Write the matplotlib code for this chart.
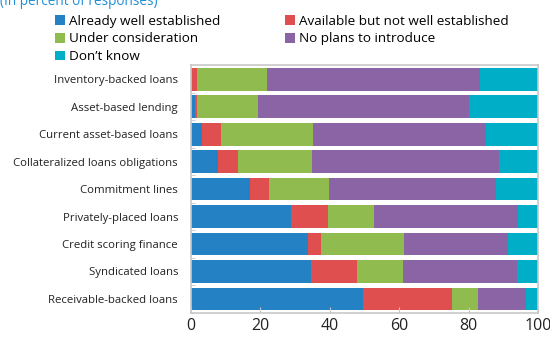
import matplotlib
matplotlib.use('Agg')
import matplotlib.pyplot as plt
import numpy as np

plt.rcParams['font.family'] = ['Open Sans', 'DejaVu Sans']

categorias = ['Inventory-backed loans', 'Asset-based lending', 'Current asset-based loans',
              'Collateralized loans obligations', 'Commitment lines', 'Privately-placed loans',
              'Credit scoring finance', 'Syndicated loans', 'Receivable-backed loans']
estabelecido = [0, 1.3, 3.2, 7.8, 17.0, 28.9, 33.9, 34.8, 49.7]
disponivel = [1.8, 0.6, 5.7, 6.0, 5.7, 10.7, 3.7, 13.1, 25.4]
consideracao = [20.1, 17.4, 26.4, 21.1, 17.1, 13.3, 23.7, 13.3, 7.6]
sem_planos = [61.5, 60.8, 49.7, 53.9, 48.1, 41.4, 30.1, 32.6, 13.7]
nao_sabe = [16.6, 19.9, 15.0, 11.2, 12.1, 5.7, 8.6, 6.2, 3.6]

series = [
    ('Already well established', estabelecido, '#2481c3'),
    ('Available but not well established', disponivel, '#df4f4f'),
    ('Under consideration', consideracao, '#8fbb4f'),
    ('No plans to introduce', sem_planos, '#8a64a4'),
    ("Don\u2019t know", nao_sabe, '#00aec8'),
]

fig = plt.figure(figsize=(5.5, 3.41), dpi=100)
ax = fig.add_axes([0.3464, 0.083, 0.632, 0.725])

y = np.arange(len(categorias))
esquerda = np.zeros(len(categorias))
barras = {}
for nome, valores, cor in series:
    b = ax.barh(y, valores, 0.83, left=esquerda, color=cor, label=nome)
    barras[nome] = b
    esquerda = esquerda + np.array(valores)

ax.set_xlim(0, 100)
ax.set_ylim(len(categorias) - 0.5, -0.5)
ax.set_yticks(y, categorias, fontsize=8.2, color='#222222')
ax.set_yticks(np.arange(len(categorias)) + 0.5, minor=True)
ax.tick_params(axis='y', which='major', length=0, pad=9)
ax.tick_params(axis='y', which='minor', length=3, direction='in', color='#c8c8c8')
ax.set_xticks([0, 20, 40, 60, 80, 100])
ax.tick_params(axis='x', length=4, direction='in', color='#c8c8c8', labelsize=11.5,
               labelcolor='#222222', pad=4)
for s in ax.spines.values():
    s.set_color('#c8c8c8')
    s.set_linewidth(1.2)

# ordem da legenda: preenche por coluna
ordem = ['Already well established', 'Under consideration', "Don\u2019t know",
         'Available but not well established', 'No plans to introduce']
fig.legend([barras[n] for n in ordem], ordem, ncol=2, loc='upper left',
           bbox_to_anchor=(0.083, 0.985), frameon=False, fontsize=9.7,
           handlelength=0.75, handleheight=0.75, handletextpad=0.3,
           columnspacing=4.8, labelspacing=0.36, borderaxespad=0.3)

fig.text(0.0, 0.997, '(In percent of responses)', color='#1f8fd6', fontsize=9.8,
         ha='left', va='center')

fig.savefig('out.png', dpi=100)
